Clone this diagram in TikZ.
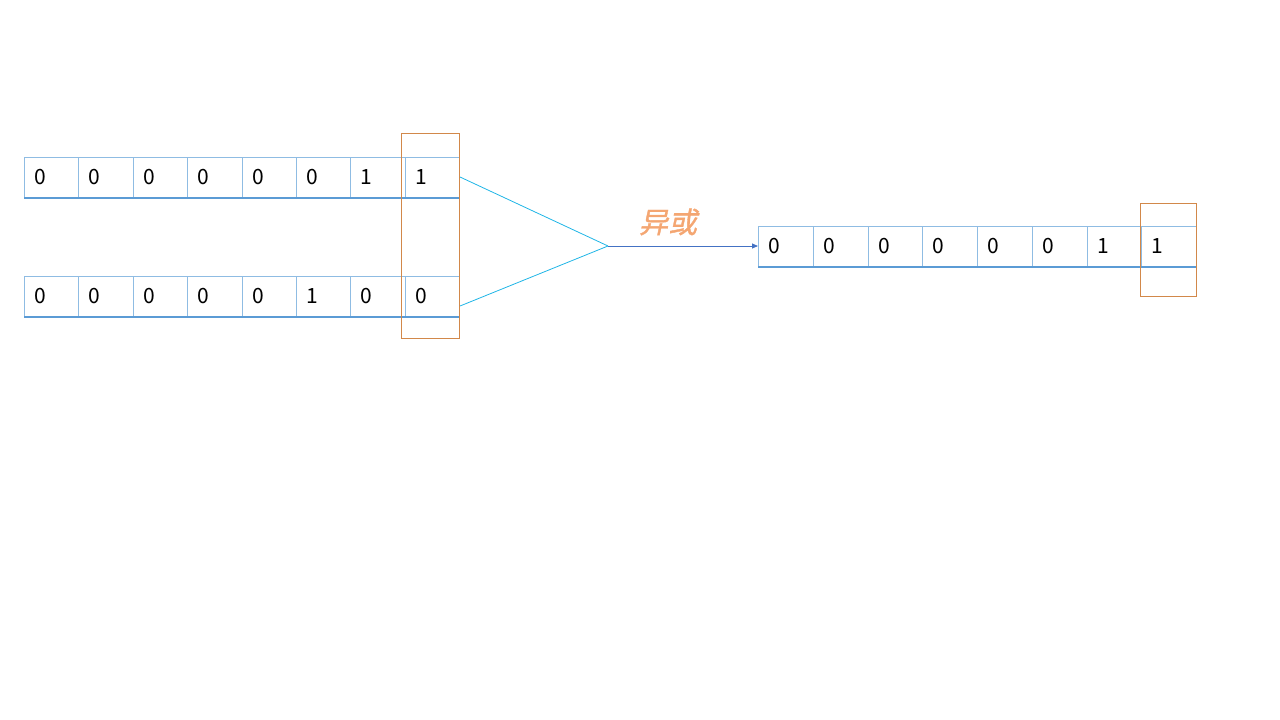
\documentclass[tikz,border=0pt]{standalone}
\usepackage{fontspec}
\setmainfont{Noto Sans CJK SC}
\newfontfamily\xorfont[FakeSlant=0.22,FakeBold=1.2]{Noto Sans CJK SC}
\usepackage{tikz}
\usetikzlibrary{positioning,arrows.meta}
\definecolor{cellline}{HTML}{8FBCE3}
\definecolor{cellbase}{HTML}{5B9BD5}
\definecolor{selorange}{HTML}{D2884A}
\definecolor{xorcyan}{HTML}{1FB5E6}
\definecolor{arrowblue}{HTML}{4472C4}
\definecolor{xortext}{HTML}{F4A672}

\begin{document}
\begin{tikzpicture}[x=1pt, y=-1pt,
    cell/.style={draw=cellline, line width=1pt, minimum height=40pt, text width=34.4pt, align=left, inner xsep=10pt, inner ysep=0pt, anchor=west, font=\fontsize{21}{24}\selectfont},
    wcell/.style={cell, text width=34.75pt},
    base/.style={draw=cellbase, line width=2pt},
    selbox/.style={draw=selorange, line width=0.9pt},
    merge/.style={draw=xorcyan, line width=0.8pt}]
    \useasboundingbox (0,0) rectangle (1280,720);
    % first operand
    \foreach \v [count=\i] in {0,0,0,0,0,0,1,1}
        \node[cell] (a\i) at ({24+(\i-1)*54.375},177) {\v};
    % second operand
    \foreach \v [count=\i] in {0,0,0,0,0,1,0,0}
        \node[cell] (b\i) at ({24+(\i-1)*54.375},296) {\v};
    % result
    \foreach \v [count=\i] in {0,0,0,0,0,0,1,1}
        \node[wcell] (c\i) at ({758+(\i-1)*54.75},246) {\v};
    \draw[base] (a1.south west) -- (a8.south east);
    \draw[base] (b1.south west) -- (b8.south east);
    \draw[base] (c1.south west) -- (c8.south east);
    % selected bits
    \draw[selbox] (401,133) rectangle (459,338);
    \draw[selbox] (1140,203) rectangle (1196,296);
    % xor
    \coordinate (m) at (608,246);
    \draw[merge] (a8.east) -- (m);
    \draw[merge] ([yshift=-10pt]b8.east) -- (m);
    \draw[arrowblue, line width=0.8pt, -{Triangle[length=6pt,width=5pt]}] (m) -- (c1.west);
    \node[font=\xorfont\fontsize{29}{32}\selectfont, text=xortext] (xor) at (668,222) {异或};
\end{tikzpicture}
\end{document}
